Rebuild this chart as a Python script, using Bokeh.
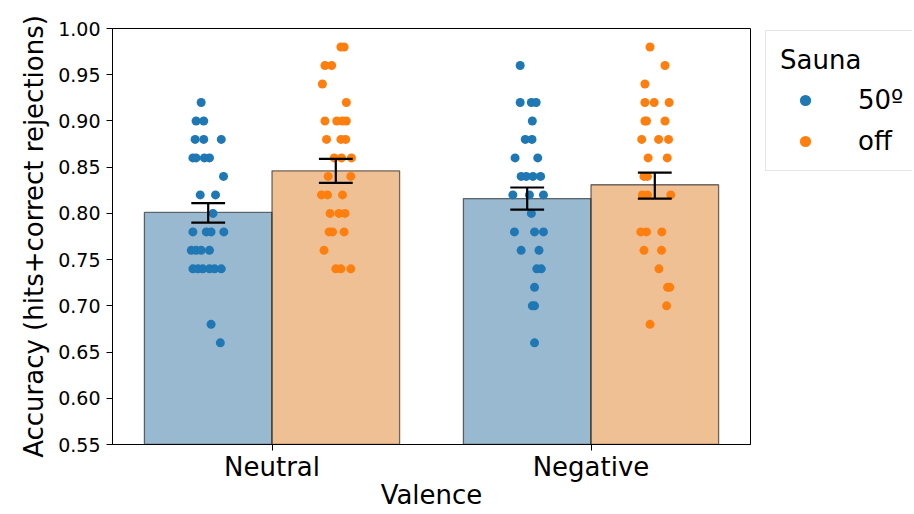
from bokeh.plotting import figure
from bokeh.layouts import row
from bokeh.models import FixedTicker, NumeralTickFormatter, Legend, LegendItem, Range1d
from bokeh.embed import file_html
from bokeh.resources import INLINE

categories = ["Neutral", "Negative"]
hues = ["50º", "off"]

bar_mean_50 = [0.801, 0.816]
bar_mean_off = [0.846, 0.831]
ci_low_50 = [0.790, 0.804]
ci_high_50 = [0.811, 0.828]
ci_low_off = [0.833, 0.816]
ci_high_off = [0.859, 0.844]

# individual points (values) and their horizontal jitter
neutral_50_vals = [0.92, 0.90, 0.90, 0.88, 0.88, 0.88, 0.86, 0.86, 0.86, 0.86, 0.84, 0.82, 0.82, 0.80,
                   0.78, 0.78, 0.78, 0.78, 0.76, 0.76, 0.76, 0.76, 0.74, 0.74, 0.74, 0.74, 0.74, 0.74,
                   0.68, 0.66]
neutral_50_jit = [-0.022, -0.038, -0.014, -0.041, -0.014, 0.041, -0.048, -0.038, -0.012, 0.004, 0.048,
                  -0.025, 0.023, 0.015, -0.048, -0.006, 0.009, 0.049, -0.053, -0.038, -0.022, 0.004,
                  -0.048, -0.032, -0.017, 0.004, 0.020, 0.041, 0.009, 0.038]

neutral_off_vals = [0.98, 0.98, 0.96, 0.96, 0.94, 0.92, 0.90, 0.90, 0.90, 0.90, 0.88, 0.88, 0.88,
                    0.86, 0.86, 0.86, 0.84, 0.84, 0.82, 0.82, 0.82, 0.80, 0.80, 0.80, 0.78, 0.78, 0.78,
                    0.76, 0.74, 0.74, 0.74]
neutral_off_jit = [0.016, 0.026, -0.034, -0.013, -0.042, 0.033, -0.034, 0.003, 0.021, 0.033, -0.029,
                   0.016, 0.031, -0.005, 0.018, 0.049, -0.024, 0.047, -0.045, -0.026, 0.021, -0.018,
                   0.010, 0.029, -0.021, -0.010, 0.026, -0.037, 0.000, 0.016, 0.047]

negative_50_vals = [0.96, 0.92, 0.92, 0.92, 0.90, 0.88, 0.88, 0.86, 0.86, 0.84, 0.84, 0.84, 0.84,
                    0.82, 0.82, 0.82, 0.80, 0.78, 0.78, 0.78, 0.76, 0.76, 0.74, 0.74, 0.72, 0.70, 0.70,
                    0.66]
negative_50_jit = [-0.022, -0.022, 0.013, 0.028, 0.016, -0.006, 0.015, -0.038, 0.033, -0.019, -0.003,
                   0.018, 0.042, -0.045, 0.007, 0.051, 0.013, -0.040, 0.023, 0.051, -0.019, 0.037,
                   0.030, 0.044, 0.023, 0.016, 0.023, 0.023]

negative_off_vals = [0.98, 0.96, 0.94, 0.92, 0.92, 0.92, 0.90, 0.90, 0.90, 0.88, 0.88, 0.88, 0.86, 0.86,
                     0.84, 0.84, 0.82, 0.82, 0.82, 0.78, 0.78, 0.78, 0.76, 0.76, 0.74, 0.72, 0.72, 0.70,
                     0.68]
negative_off_jit = [-0.015, 0.032, -0.031, -0.031, -0.002, 0.045, -0.031, -0.026, 0.032, -0.041, 0.012,
                    0.043, -0.021, 0.039, -0.034, -0.023, -0.039, -0.023, 0.050, -0.044, -0.026, 0.022,
                    -0.034, 0.021, 0.013, 0.040, 0.047, 0.037, -0.015]

y_ticks = [0.55, 0.60, 0.65, 0.70, 0.75, 0.80, 0.85, 0.90, 0.95, 1.00]

FONT = "DejaVu Sans"
BLUE = "#1f77b4"
ORANGE = "#ff7f0e"
BAR_BLUE = "#3274a1"
BAR_ORANGE = "#e1812c"
DODGE = 0.2
BAR_W = 0.4
CAP = 0.053

p = figure(width=762, height=512, output_backend="svg", toolbar_location=None,
           x_range=Range1d(-0.5, 1.5), y_range=Range1d(0.55, 1.0),
           min_border_left=112, min_border_right=12, min_border_top=28, min_border_bottom=68)

idx = list(range(len(categories)))
x50 = [i - DODGE for i in idx]
xoff = [i + DODGE for i in idx]

p.vbar(x=x50, top=bar_mean_50, bottom=0.55, width=BAR_W, fill_color=BAR_BLUE, fill_alpha=0.5,
       line_color="black", line_alpha=0.55, line_width=1.3)
p.vbar(x=xoff, top=bar_mean_off, bottom=0.55, width=BAR_W, fill_color=BAR_ORANGE, fill_alpha=0.5,
       line_color="black", line_alpha=0.55, line_width=1.3)

def pts(ci, hoff, vals, jit):
    return [ci + hoff + j for j in jit], vals

xa, ya = pts(0, -DODGE, neutral_50_vals, neutral_50_jit)
xb, yb = pts(1, -DODGE, negative_50_vals, negative_50_jit)
p.scatter(x=xa + xb, y=ya + yb, size=9, fill_color=BLUE, line_color=None)
xc, yc = pts(0, DODGE, neutral_off_vals, neutral_off_jit)
xd, yd = pts(1, DODGE, negative_off_vals, negative_off_jit)
p.scatter(x=xc + xd, y=yc + yd, size=9, fill_color=ORANGE, line_color=None)

for xs, lo, hi in ((x50, ci_low_50, ci_high_50), (xoff, ci_low_off, ci_high_off)):
    p.segment(x0=xs, x1=xs, y0=lo, y1=hi, line_color="black", line_width=2.2)
    p.segment(x0=[x - CAP for x in xs], x1=[x + CAP for x in xs], y0=lo, y1=lo,
              line_color="black", line_width=2.2)
    p.segment(x0=[x - CAP for x in xs], x1=[x + CAP for x in xs], y0=hi, y1=hi,
              line_color="black", line_width=2.2)

p.xgrid.visible = False
p.ygrid.visible = False
p.outline_line_color = "black"
p.outline_line_width = 1
p.outline_line_alpha = 1

p.xaxis.ticker = FixedTicker(ticks=idx)
p.xaxis.major_label_overrides = {i: c for i, c in enumerate(categories)}
p.yaxis.ticker = FixedTicker(ticks=y_ticks)
p.yaxis.formatter = NumeralTickFormatter(format="0.00")

for ax in (p.xaxis[0], p.yaxis[0]):
    ax.axis_line_color = "black"
    ax.major_tick_line_color = "black"
    ax.major_tick_in = 0
    ax.major_tick_out = 6
    ax.minor_tick_line_color = None
    ax.major_label_text_font = FONT
    ax.major_label_text_color = "black"
    ax.axis_label_text_font = FONT
    ax.axis_label_text_font_style = "normal"
    ax.axis_label_text_font_size = "26px"
    ax.axis_label_text_color = "black"

p.xaxis.major_label_text_font_size = "26px"
p.yaxis.major_label_text_font_size = "19px"
p.xaxis.axis_label = "Valence"
p.yaxis.axis_label = "Accuracy (hits+correct rejections)"
p.xaxis.major_label_standoff = 1
p.xaxis.axis_label_standoff = -5
p.yaxis.major_label_standoff = 6
p.yaxis.axis_label_standoff = 6

# legend lives in a small companion figure to the right of the plot;
# its key renderers hold the same points, kept outside that figure's ranges
lg = figure(width=150, height=512, output_backend="svg", toolbar_location=None,
            x_range=Range1d(10, 11), y_range=Range1d(10, 11),
            x_axis_location=None, y_axis_location=None,
            min_border_left=0, min_border_right=0, min_border_top=0, min_border_bottom=0)
lg.outline_line_color = None
lg.xgrid.visible = False
lg.ygrid.visible = False
k50 = lg.scatter(x=xa + xb, y=ya + yb, size=9, fill_color=BLUE, line_color=None)
koff = lg.scatter(x=xc + xd, y=yc + yd, size=9, fill_color=ORANGE, line_color=None)

legend = Legend(items=[LegendItem(label=hues[0], renderers=[k50]),
                       LegendItem(label=hues[1], renderers=[koff])],
                location=(3, 273), title="Sauna",
                title_text_font=FONT, title_text_font_size="26px", title_text_font_style="normal",
                title_text_color="black",
                label_text_font=FONT, label_text_font_size="26px", label_text_color="black",
                glyph_width=50, glyph_height=28, label_height=30, label_standoff=28,
                spacing=11, padding=14, title_standoff=10, margin=0,
                border_line_color="#cccccc", border_line_width=1,
                background_fill_color="white", background_fill_alpha=0.8)
lg.add_layout(legend, "center")

layout = row(p, lg)
open("out.html", "w").write(file_html(layout, INLINE))
